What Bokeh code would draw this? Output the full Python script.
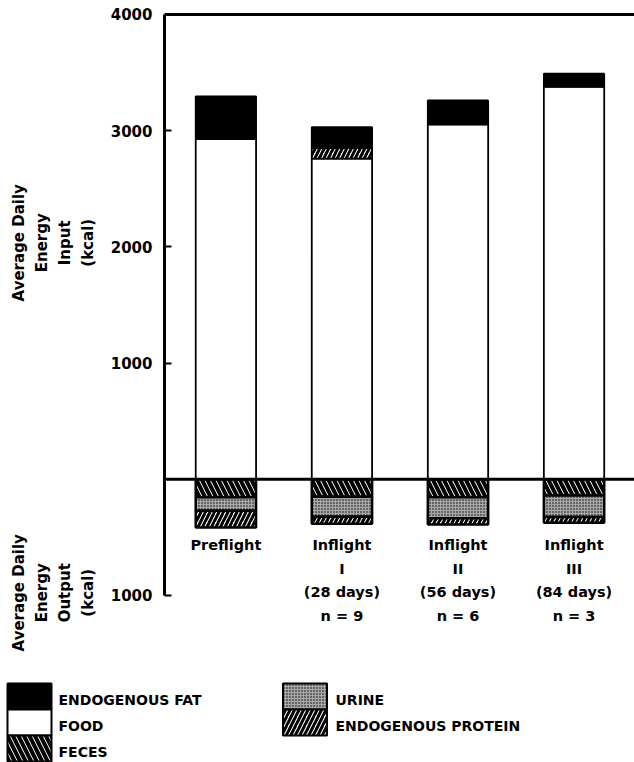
from math import pi
from bokeh.plotting import figure
from bokeh.models import ColumnDataSource, Range1d, FixedTicker, Span
from bokeh.layouts import column, row
from bokeh.transform import stack
from bokeh.core.properties import value
from bokeh.embed import file_html
from bokeh.resources import INLINE

# ---- data ----
categories = ["Preflight", "Inflight I", "Inflight II", "Inflight III"]
category_labels = ["Preflight",
                   "Inflight\nI\n(28 days)\nn = 9",
                   "Inflight\nII\n(56 days)\nn = 6",
                   "Inflight\nIII\n(84 days)\nn = 3"]
food = [2930, 2760, 3055, 3380]
protein_in = [0, 90, 0, 0]
fat = [365, 180, 205, 110]
feces = [155, 150, 155, 140]
urine = [115, 172, 180, 185]
protein_out = [145, 62, 55, 50]
y_ticks = [4000, 3000, 2000, 1000, -1000]
y_tick_labels = ["4000", "3000", "2000", "1000", "1000"]
axis_titles = ["Average Daily\nEnergy\nInput\n(kcal)", "Average Daily\nEnergy\nOutput\n(kcal)"]
axis_title_y = [2035, -977]
legend_col1 = ["ENDOGENOUS FAT", "FOOD", "FECES"]
legend_col2 = ["URINE", "ENDOGENOUS PROTEIN"]

FONT = "DejaVu Sans"

src = ColumnDataSource(dict(
    x=list(range(len(categories))),
    food=food, protein_in=protein_in, fat=fat,
    feces=[-v for v in feces], urine=[-v for v in urine],
    protein_out=[-v for v in protein_out],
    label=category_labels,
))

FAT = dict(fill_color="black", line_color="black")
FOOD = dict(fill_color="white", line_color="black")
PROT = dict(fill_color="white", line_color="black", hatch_pattern="/",
            hatch_color="black", hatch_weight=3, hatch_scale=9)
FECES = dict(fill_color="white", line_color="black", hatch_pattern="\\",
             hatch_color="black", hatch_weight=4, hatch_scale=11)
URINE = dict(fill_color="#a8a8a8", line_color="black", hatch_pattern=".",
             hatch_color="black", hatch_weight=1, hatch_scale=3)
STYLES = {"ENDOGENOUS FAT": FAT, "FOOD": FOOD, "FECES": FECES,
          "URINE": URINE, "ENDOGENOUS PROTEIN": PROT}

Y_RANGE = Range1d(-1577, 4034)

# ---- main chart ----
p = figure(width=527, height=662, x_range=Range1d(-0.529, 3.521), y_range=Y_RANGE,
           x_axis_location=None, output_backend="svg", toolbar_location=None,
           min_border_left=56, min_border_right=0, min_border_top=10,
           min_border_bottom=0, frame_align=False)
p.outline_line_color = None
p.grid.visible = False

W = 0.52
p.vbar(x="x", width=W, bottom=0, top=stack("food"), source=src, line_width=1.8, **FOOD)
p.vbar(x="x", width=W, bottom=stack("food"), top=stack("food", "protein_in"),
       source=src, line_width=1.8, **PROT)
p.vbar(x="x", width=W, bottom=stack("food", "protein_in"),
       top=stack("food", "protein_in", "fat"), source=src, line_width=1.8, **FAT)
p.vbar(x="x", width=W, top=0, bottom=stack("feces"), source=src, line_width=2.5, **FECES)
p.vbar(x="x", width=W, top=stack("feces"), bottom=stack("feces", "urine"),
       source=src, line_width=2.5, **URINE)
p.vbar(x="x", width=W, top=stack("feces", "urine"),
       bottom=stack("feces", "urine", "protein_out"), source=src, line_width=2.5, **PROT)

p.add_layout(Span(location=0, dimension="width", line_color="black", line_width=3))
p.add_layout(Span(location=4000, dimension="width", line_color="black", line_width=3))

ax = p.yaxis[0]
ax.ticker = FixedTicker(ticks=y_ticks)
ax.major_label_overrides = {t: l for t, l in zip(y_ticks, y_tick_labels)}
ax.bounds = (-1000, 4000)
ax.axis_line_width = 3
ax.major_tick_in = 7
ax.major_tick_out = 0
ax.major_tick_line_width = 2
ax.minor_tick_line_color = None
ax.major_label_text_font = FONT
ax.major_label_text_font_style = "bold"
ax.major_label_text_font_size = "15px"
ax.major_label_text_color = "black"
ax.major_label_standoff = 12

p.text(x="x", y=-500, text="label", source=src, text_font=value(FONT),
       text_font_style="bold", text_font_size="14.5px", text_align="center",
       text_baseline="top", text_line_height=1.47, text_color="black")

# ---- axis titles (left strip) ----
tf = figure(width=107, height=662, x_range=Range1d(0, 107), y_range=Y_RANGE,
            x_axis_location=None, y_axis_location=None, output_backend="svg",
            toolbar_location=None, min_border_left=0, min_border_right=0,
            min_border_top=10, min_border_bottom=0, frame_align=False)
tf.outline_line_color = None
tf.grid.visible = False
tsrc = ColumnDataSource(dict(x=[53, 53], y=axis_title_y, t=axis_titles))
tf.text(x="x", y="y", text="t", source=tsrc, angle=pi / 2, text_align="center",
        text_baseline="middle", text_font=value(FONT), text_font_style="bold",
        text_font_size="15px", text_line_height=1.26, text_color="black")

# ---- legend strip (rows of 26 px, row 0 at top) ----
lg = figure(width=634, height=100, x_range=Range1d(0, 634), y_range=Range1d(3.038, -0.808),
            x_axis_location=None, y_axis_location=None, output_backend="svg",
            toolbar_location=None, min_border=0, frame_align=False)
lg.outline_line_color = None
lg.grid.visible = False
for names, sx, tx in [(legend_col1, 29, 58), (legend_col2, 304.5, 335)]:
    for i, name in enumerate(names):
        lg.rect(x=sx, y=i + 0.5, width=44, height=1, line_width=2, **STYLES[name])
    lg.text(x=[tx] * len(names), y=[i + 0.65 for i in range(len(names))], text=names,
            text_font=value(FONT), text_font_style="bold", text_font_size="14px",
            text_baseline="middle", text_align="left", text_color="black")

layout = column(row(tf, p), lg)
open("out.html", "w").write(file_html(layout, INLINE))
